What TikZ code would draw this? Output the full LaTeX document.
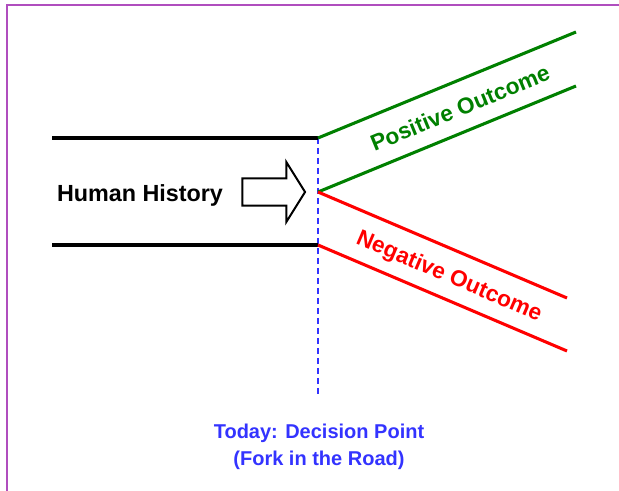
\documentclass[tikz,border=0pt]{standalone}
\usepackage{fontspec}
\setmainfont{Liberation Sans}
\usetikzlibrary{shapes.arrows}
\definecolor{frameviolet}{RGB}{176,78,190}
\definecolor{pathgreen}{RGB}{0,128,0}
\definecolor{todayblue}{RGB}{51,51,255}
\tikzset{
    road/.style={line width=2.3pt},
    lbl/.style={font=\bfseries\fontsize{17}{19}\selectfont, inner sep=0pt},
}
\begin{document}
\begin{tikzpicture}[x=0.75pt,y=-0.75pt]
        \useasboundingbox (0,0) rectangle (619,491);
        % frame
        \draw[frameviolet,line width=1.8pt] (7,491)--(7,5)--(619,5);
        % points of the road
        \coordinate (topL) at (52,138);
        \coordinate (topR) at (318,138);
        \coordinate (botL) at (52,245);
        \coordinate (botR) at (318,245);
        \coordinate (fork) at (318,192);
        \coordinate (posHi) at (576,32);
        \coordinate (posLo) at (576,86);
        \coordinate (negHi) at (567,298);
        \coordinate (negLo) at (567,351);
        \coordinate (today) at (318,395);
        % decision line
        \draw[todayblue,line width=0.8pt,dash pattern=on 4.5pt off 3pt] (topR)--(today);
        % history
        \draw[road] (topL)--(topR);
        \draw[road] (botL)--(botR);
        \draw[road,pathgreen] (topR)--(posHi);
        \draw[road,pathgreen] (fork)--(posLo);
        \draw[road,red] (fork)--(negHi);
        \draw[road,red] (botR)--(negLo);
        \node[lbl,font=\bfseries\fontsize{17.5}{19}\selectfont] (histlbl) at (140,195) {Human History};
        \node[single arrow,draw,line width=1.5pt,inner xsep=0pt,inner ysep=9.4pt,
              minimum height=47pt,
              single arrow head extend=12.4pt,single arrow tip angle=116] (histarrow) at (269.5,192) {};
        \node[lbl,pathgreen,rotate=22.3] (poslbl) at (460,108) {Positive Outcome};
        \node[lbl,red,rotate=-23.1] (neglbl) at (449,277) {Negative Outcome};
        \node[lbl,todayblue,align=center,font=\bfseries\fontsize{15}{20}\selectfont] (todaylbl) at (319,447) {Today: Decision Point\\(Fork in the Road)};
\end{tikzpicture}
\end{document}
